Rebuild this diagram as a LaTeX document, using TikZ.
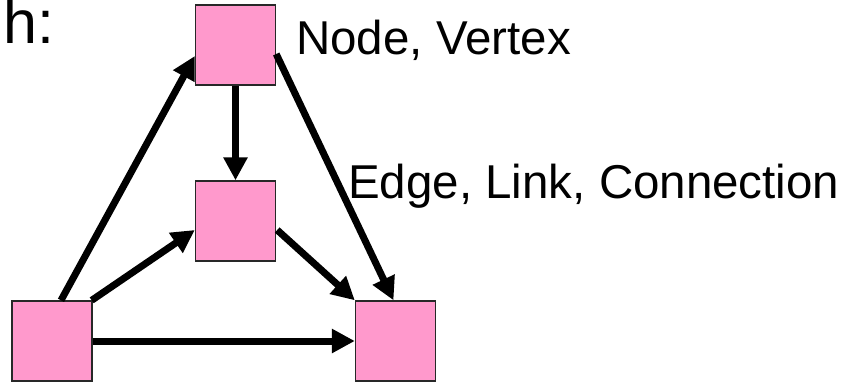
\documentclass[tikz,border=0pt]{standalone}
\usepackage{fontspec}
\setmainfont{Liberation Sans}
\usetikzlibrary{arrows.meta}
\definecolor{boxpink}{RGB}{255,153,204}
\definecolor{boxrim}{RGB}{40,40,40}
\begin{document}
\begin{tikzpicture}[x=1pt,y=-1pt,
  vbox/.style={rectangle,draw=boxrim,line width=1.4pt,fill=boxpink,
    minimum width=80pt,minimum height=80pt,inner sep=0pt},
  edge/.style={line width=7pt,draw=black,
    -{Triangle[length=23pt,width=23pt]}},
  lbl/.style={anchor=base west,inner sep=0pt,font=\fontsize{47.5}{50}\selectfont}]
  \useasboundingbox (0,0) rectangle (846,383);

  % vertices
  \node[vbox] (top) at (235.5,45)  {};
  \node[vbox] (mid) at (235.5,221) {};
  \node[vbox] (bl)  at (52,341)    {};
  \node[vbox] (br)  at (395.5,341) {};

  % edges
  \draw[edge] ([xshift=9pt]bl.north) -- ([yshift=-11pt]top.west);
  \draw[edge] (top.south) -- (mid.north);
  \draw[edge] ([yshift=-9pt]top.east) -- ([xshift=-2pt]br.north);
  \draw[edge] ([xshift=-1pt]bl.north east) -- ([yshift=-9pt]mid.west);
  \draw[edge] ([yshift=-9pt,xshift=1pt]mid.east) -- (br.north west);
  \draw[edge] (bl.east) -- (br.west);

  % labels
  \node[anchor=base west,inner sep=0pt,font=\fontsize{61}{64}\selectfont] (title) at (3.3,43) {h:};
  \node[lbl] (nodelbl) at (296,54) {Node, Vertex};
  \node[lbl] (edgelbl) at (348,198) {Edge, Link, Connection};
\end{tikzpicture}
\end{document}
